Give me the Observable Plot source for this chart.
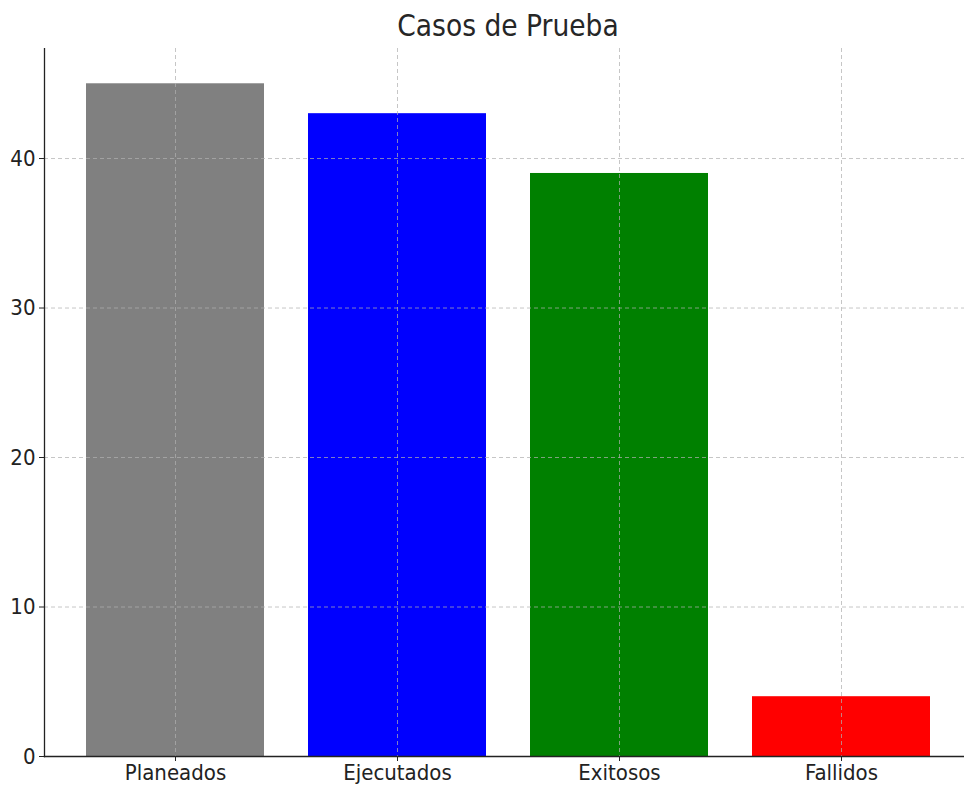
<!DOCTYPE html>
<html><head><meta charset="utf-8">
<script src="https://cdn.jsdelivr.net/npm/d3@7"></script>
<script src="https://cdn.jsdelivr.net/npm/@observablehq/plot@0.6"></script>
<style>
body{margin:0;background:#fff;}
#title{height:48px;box-sizing:border-box;padding-left:52px;font-family:"DejaVu Sans Condensed","DejaVu Sans",sans-serif;font-size:29.5px;color:#262626;text-align:center;line-height:52px;white-space:nowrap;}
</style>
</head><body>
<div id="title">Casos de Prueba</div>
<div id="chart"></div>
<script>
const categories = ["Planeados", "Ejecutados", "Exitosos", "Fallidos"];
const values = [45, 43, 39, 4];
const colors = ["gray", "blue", "green", "red"];
const yTicks = [0, 10, 20, 30, 40];
const data = categories.map((c, i) => ({cat: c, value: values[i], color: colors[i]}));

const gridStyle = {stroke: "#b0b0b0", strokeOpacity: 0.8, strokeDasharray: "4,3", strokeWidth: 0.9};

const chart = Plot.plot({
  width: 964,
  height: 743,
  marginTop: 0,
  marginBottom: 35,
  marginLeft: 44,
  marginRight: 0,
  x: {type: "band", domain: categories, range: [44, 972], paddingInner: 0.2, paddingOuter: 0.19, label: null},
  y: {domain: [0, 47.36], label: null},
  style: {fontFamily: "'DejaVu Sans Condensed','DejaVu Sans',sans-serif", fontSize: "22px", color: "#222", background: "white", overflow: "hidden"},
  marks: [
    Plot.barY(data, {x: "cat", y: "value", fill: "color"}),
    Plot.gridY(yTicks, gridStyle),
    Plot.gridX(categories, gridStyle),
    Plot.axisY(yTicks, {tickSize: 5, tickPadding: 4, label: null}),
    Plot.axisX(categories, {tickSize: 5, tickPadding: 3, label: null}),
    Plot.frame({anchor: "left", strokeWidth: 1.3}),
    Plot.frame({anchor: "bottom", strokeWidth: 1.3})
  ]
});
document.getElementById("chart").appendChild(chart);
</script>
</body></html>
